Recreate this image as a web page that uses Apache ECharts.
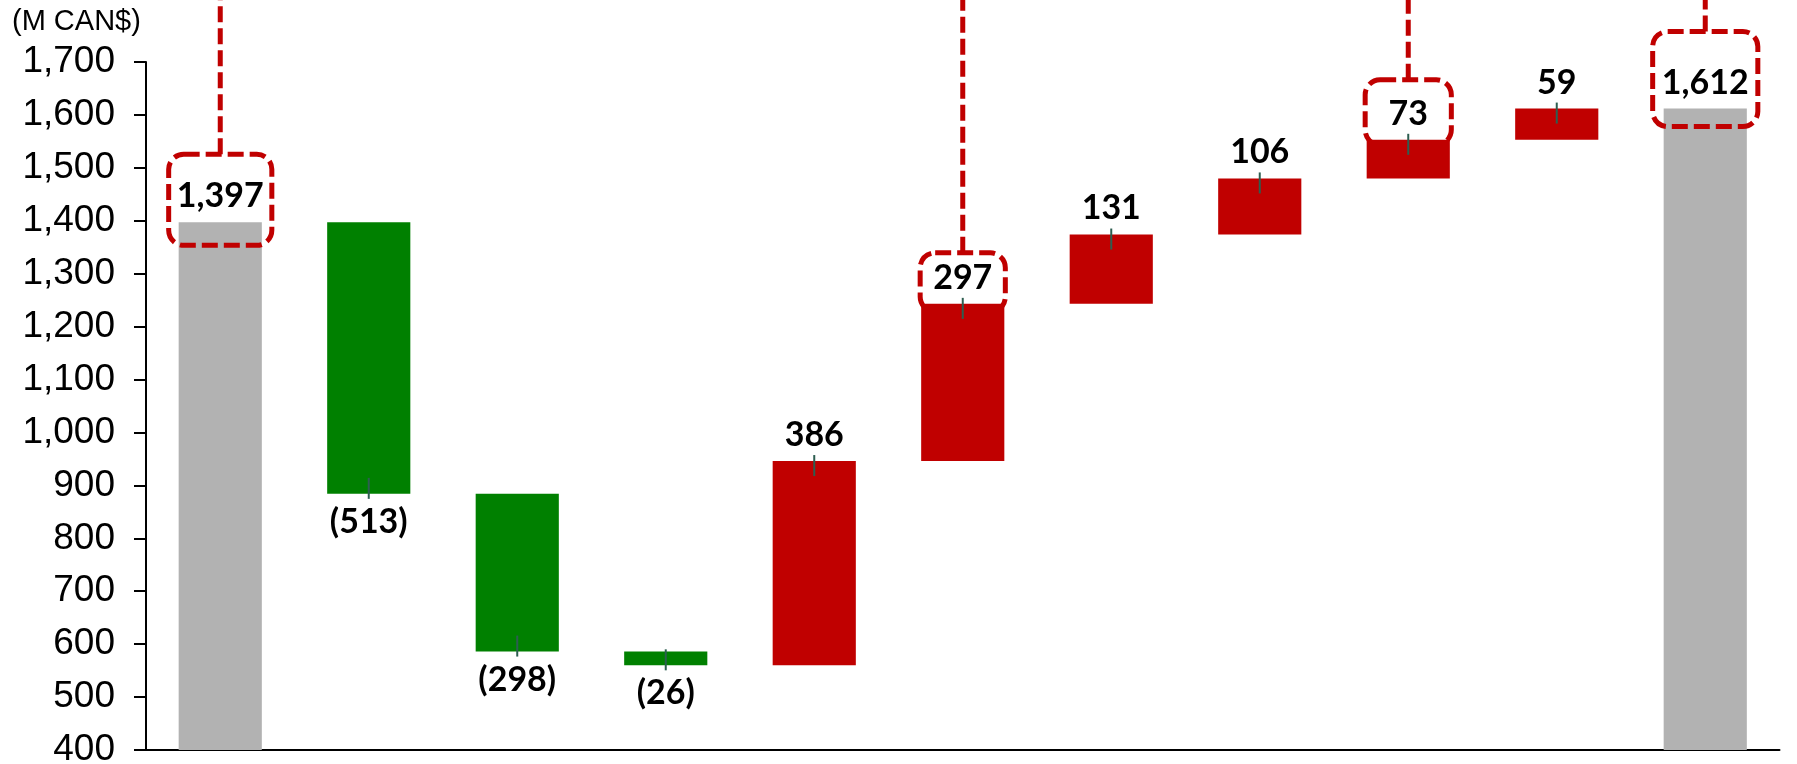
<!DOCTYPE html>
<html>
<head>
<meta charset="utf-8">
<script src="https://cdn.jsdelivr.net/npm/echarts@6/dist/echarts.min.js"></script>
<style>
html,body{margin:0;padding:0;background:#fff;}
#chart{width:1797px;height:764px;}
</style>
</head>
<body>
<div id="chart"></div>
<script>
// ---- data ----
const categories = ['Opening', 'Decrease A', 'Decrease B', 'Decrease C', 'Increase A', 'Increase B', 'Increase C', 'Increase D', 'Increase E', 'Increase F', 'Closing'];
const totals  = [1397, null, null, null, null, null, null, null, null, null, 1612];
const changes = [null, -513, -298, -26, 386, 297, 131, 106, 73, 59, null];
const calloutIndices = [0, 5, 8, 10];
const axisMin = 400, axisMax = 1700, axisStep = 100;
const unitLabel = '(M CAN$)';

// ---- derived waterfall series ----
const base = [], tot = [], inc = [], dec = [], ends = [];
let running = 0;
for (let i = 0; i < categories.length; i++) {
  if (totals[i] != null) {
    running = totals[i];
    base.push(0); tot.push(totals[i]); inc.push('-'); dec.push('-');
  } else {
    const c = changes[i];
    if (c >= 0) {
      base.push(running); inc.push(c); dec.push('-'); tot.push('-');
      running += c;
      ends.push([i, running, 1]);
    } else {
      running += c;
      base.push(running); dec.push(-c); inc.push('-'); tot.push('-');
      ends.push([i, running, -1]);
    }
  }
}
let r2 = 0;
const cumulative = categories.map((_, i) => { if (totals[i] != null) r2 = totals[i]; else r2 += changes[i]; return r2; });
const calloutData = calloutIndices.map(i => [i, cumulative[i]]);

// ---- styles for callouts (pixel offsets relative to bar top) ----
const calloutGeom = {
  0:  {padX: 10, top: -68, bottom: 23},
  5:  {padX: 1,  top: -51, bottom: 8},
  8:  {padX: 1.5, top: -60, bottom: 5},
  10: {padX: 11, top: -77, bottom: 18}
};
const RED = '#c00000', GREEN = '#008000', GRAY = '#b2b2b2';
const BAR_W = '56%';
const labelFont = {fontFamily: 'Lato', fontWeight: 'bold', fontSize: 34, color: '#000'};
const fmt = v => Number(v).toLocaleString('en-US');

const chart = echarts.init(document.getElementById('chart'));
chart.setOption({
  animation: false,
  backgroundColor: '#fff',
  grid: {left: 146, right: 17.5, top: 62, bottom: 14, containLabel: false, outerBoundsMode: 'none'},
  graphic: [{
    type: 'text', left: 12, top: 7,
    style: {text: unitLabel, font: '29px "Liberation Sans", Arial, sans-serif', fill: '#000'}
  }],
  xAxis: {
    type: 'category', data: categories,
    axisLine: {show: true, lineStyle: {color: '#000', width: 2}},
    axisTick: {show: false}, axisLabel: {show: false}
  },
  yAxis: {
    type: 'value', min: axisMin, max: axisMax, interval: axisStep,
    axisLine: {show: true, lineStyle: {color: '#000', width: 2}},
    axisTick: {show: true, length: 12, lineStyle: {color: '#000', width: 2}},
    splitLine: {show: false},
    axisLabel: {formatter: v => fmt(v), fontFamily: 'Liberation Sans', fontSize: 37, color: '#000', margin: 31}
  },
  series: [
    {name: 'base', type: 'bar', stack: 'w', barWidth: BAR_W, data: base, itemStyle: {color: 'transparent'}, silent: true, z: 1},
    {name: 'total', type: 'bar', stack: 'w', barWidth: BAR_W, data: tot, itemStyle: {color: GRAY}, z: 2,
      label: {show: true, position: 'top', distance: 9, formatter: p => fmt(p.value), ...labelFont}},
    {name: 'decrease', type: 'bar', stack: 'w', barWidth: BAR_W, data: dec, itemStyle: {color: GREEN}, z: 4,
      label: {show: true, position: 'bottom', distance: 11, formatter: p => '(' + fmt(p.value) + ')', ...labelFont}},
    {name: 'increase', type: 'bar', stack: 'w', barWidth: BAR_W, data: inc, itemStyle: {color: RED}, z: 4,
      label: {show: true, position: 'top', distance: 9, formatter: p => fmt(p.value), ...labelFont}},
    {
      name: 'ticks', type: 'custom', z: 5, clip: false, data: ends,
      renderItem: (params, api) => {
        const p = api.coord([api.value(0), api.value(1)]);
        const up = api.value(2) > 0;
        return {type: 'line', shape: {x1: p[0], y1: p[1] - (up ? 6 : 16), x2: p[0], y2: p[1] + (up ? 15 : 5)},
          style: {stroke: '#2d5e50', lineWidth: 2}};
      }
    },
    {
      name: 'callouts', type: 'custom', z: 3, clip: false, data: calloutData,
      renderItem: (params, api) => {
        const idx = api.value(0);
        const p = api.coord([idx, api.value(1)]);
        const g = calloutGeom[idx];
        const bw = api.size([1, 0])[0] * 0.56;
        const w = bw + 2 * g.padX;
        const y0 = p[1] + g.top, y1 = p[1] + g.bottom;
        const st = {stroke: RED, fill: null, lineWidth: 5, lineDash: [16, 6]};
        return {type: 'group', children: [
          {type: 'rect', shape: {x: p[0] - w / 2, y: y0, width: w, height: y1 - y0, r: 15}, style: st},
          {type: 'line', shape: {x1: p[0], y1: y0, x2: p[0], y2: -5}, style: st}
        ]};
      }
    }
  ]
});
</script>
</body>
</html>
